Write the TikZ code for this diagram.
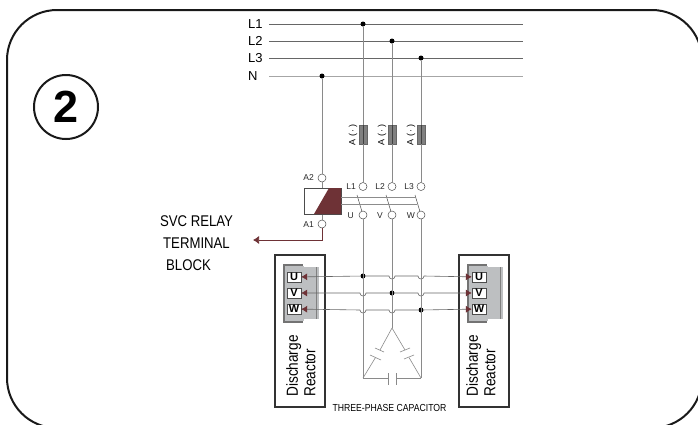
\documentclass[tikz,border=0pt]{standalone}
\usepackage{fontspec}
\setmainfont{Liberation Sans}
\newfontfamily\narrowfont[FakeStretch=0.85]{Liberation Sans}
\usetikzlibrary{arrows.meta}
\definecolor{coilred}{HTML}{6E3236}
\definecolor{linegray}{HTML}{8A8A8A}
\definecolor{blockgray}{HTML}{BDBFC1}
\tikzset{
  phase/.style={draw=black!60, line width=0.6pt},
  feed/.style={draw=linegray, line width=0.8pt},
  capline/.style={draw=linegray, line width=0.6pt},
  dotjoin/.style={circle, fill=black, inner sep=0pt, minimum size=5pt},
  term/.style={circle, draw=black!70, fill=white, line width=0.5pt, inner sep=0pt, minimum size=8pt},
  termtext/.style={font=\fontsize{8.5}{9}\selectfont, text=black!85, inner sep=0pt},
  fuse/.style={draw=black!60, fill=black!50, minimum width=7.5pt, minimum height=19pt, inner sep=0pt},
  reactor/.style={draw=black!80, line width=2.2pt, fill=white, minimum width=50pt, minimum height=152pt, inner sep=0pt},
  uvw/.style={draw=black!70, fill=white, line width=0.4pt, minimum width=14pt, minimum height=10.5pt, inner sep=0pt, font=\bfseries\fontsize{11}{11}\selectfont},
  rtext/.style={rotate=90, font=\narrowfont\fontsize{16}{17.5}\selectfont, align=left, inner sep=0pt},
  lineterm/.style={font=\fontsize{13}{14}\selectfont, inner sep=0pt, anchor=west},
  svctext/.style={font=\narrowfont\fontsize{15.5}{16}\selectfont, inner sep=0pt},
  hop/.style={draw=black!60, line width=0.6pt, -{Latex[length=6pt,width=7pt,color=coilred]}}
}
\begin{document}
\begin{tikzpicture}[x=1pt,y=-1pt]
\clip (0,0) rectangle (698,424);
%--- FRAME ---
\draw[line width=2pt, black!90, rounded corners=50pt] (7,10) rectangle (702,428);
\node[circle, draw=black!90, line width=2pt, minimum size=64pt, inner sep=0pt, font=\bfseries\fontsize{45}{45}\selectfont] (badge) at (66,107) {2};

%--- SUPPLY LINES ---
\foreach \nm/\yy/\ll in {a/24/L1, b/41/L2, c/58/L3, n/76/N} {
  \node[lineterm] (lab\nm) at (248,\yy) {\ll};
  \coordinate (st\nm) at (269,\yy);
  \coordinate (en\nm) at (523,\yy);
}
\draw[phase] (sta) -- (ena);
\draw[phase] (stb) -- (enb);
\draw[phase] (stc) -- (enc);
\draw[draw=black!35, line width=0.9pt] (stn) -- (enn);
\node[dotjoin] (doa) at (363,24) {};
\node[dotjoin] (dob) at (392,41) {};
\node[dotjoin] (doc) at (421,58) {};
\node[dotjoin] (don) at (322,76) {};

%--- FUSES ---
\foreach \nm/\xx in {a/363, b/392, c/421} {
  \node[fuse] (fu\nm) at (\xx,134.5) {};
  \draw[black!75, line width=0.5pt] (fu\nm.north) -- (fu\nm.south);
  \node[rotate=90, font=\fontsize{9}{9}\selectfont, inner sep=0pt] (fl\nm) at (\xx-10,135) {A\,\,(\,\textperiodcentered\,)};
}

%--- CONTACTOR ---
\node[term] (ta2) at (322,178) {};
\node[term] (ta1) at (322,224) {};
\node[termtext, anchor=east] (la2) at (314,178) {A2};
\node[termtext, anchor=east] (la1) at (314,225) {A1};
\foreach \nm/\xx/\top/\bot/\gap in {a/363/L1/U/9, b/392/L2/V/9, c/421/L3/W/6} {
  \node[term] (up\nm) at (\xx,186.5) {};
  \node[term] (lo\nm) at (\xx,215) {};
  \node[termtext, anchor=east] (lu\nm) at (\xx-7,187) {\top};
  \node[termtext, anchor=east] (ll\nm) at (\xx-\gap,215.5) {\bot};
  \draw[feed] (do\nm) -- (fu\nm);
  \draw[feed] (fu\nm) -- (up\nm);
  \draw[draw=black!70, line width=0.5pt] (\xx-6,195) -- (lo\nm);
}
\draw[feed] (don) -- (ta2);
\draw[feed] (ta2) -- (ta1);
\draw[draw=black!70, fill=white, line width=0.6pt] (304,188) rectangle (341,214);
\fill[coilred] (314,214) -- (329,188) -- (341,188) -- (341,214) -- cycle;
\draw[draw=black!45, line width=0.7pt] (341,197) -- (416,197) (341,204) -- (417,204);
\coordinate (relay) at (322,240);
\node[coordinate] (tip) at (253,240) {};
\draw[draw=coilred, line width=0.7pt, -{Latex[length=6pt,width=8pt]}] (ta1) -- (relay) -- (tip);
\node[svctext] (svca) at (196.5,221) {SVC RELAY};
\node[svctext] (svcb) at (196.5,243) {TERMINAL};
\node[svctext] (svcc) at (188.5,265) {BLOCK};

%--- REACTORS ---
\node[reactor] (reacl) at (300,331) {};
\node[reactor] (reacr) at (484,331) {};
\foreach \nm/\xx/\ux/\tx in {l/300/294/301, r/484/479/481} {
  \fill[blockgray] (\xx+3,267) rectangle (\xx+19,319);
  \draw[black!50, line width=0.4pt] (\xx+16,267) -- (\xx+16,319);
  \fill[black!55] (\xx-17,264) rectangle (\xx+3,323);
  \fill[blockgray] (\xx-15,266) rectangle (\xx+4,321);
  \node[uvw] (u\nm) at (\ux,277) {U};
  \node[uvw] (v\nm) at (\ux,293) {V};
  \node[uvw] (w\nm) at (\ux,309) {W};
  \node[rtext] (name\nm) at (\tx,366) {Discharge\\Reactor};
}

%--- BUSES ---
\node[dotjoin] (ju) at (363,276) {};
\node[dotjoin] (jv) at (392,293) {};
\node[dotjoin] (jw) at (421,310) {};
\draw[hop] (ju) -- (ul);
\draw[hop] (ju) -- (389,276) arc[start angle=180, end angle=0, radius=3] -- (418,276) arc[start angle=180, end angle=0, radius=3] -- (ur);
\draw[hop] (jv) -- (366,293) arc[start angle=0, end angle=180, radius=3] -- (vl);
\draw[hop] (jv) -- (418,293) arc[start angle=180, end angle=0, radius=3] -- (vr);
\draw[hop] (jw) -- (395,310) arc[start angle=0, end angle=180, radius=3] -- (366,310) arc[start angle=0, end angle=180, radius=3] -- (wl);
\draw[hop] (jw) -- (wr);

%--- THREE-PHASE CAPACITOR ---
\coordinate (cl) at (363,378);
\coordinate (cr) at (421,378);
\coordinate (ct) at (392,328);
\draw[feed] (loa) -- (cl);
\draw[feed] (lob) -- (ct);
\draw[feed] (loc) -- (cr);
\draw[capline] (cl) -- (388,378) (396,378) -- (cr);
\draw[capline] (388,373) -- (388,385) (396,373) -- (396,385);
\draw[capline] (ct) -- (380,350) (375.5,357.5) -- (cl);
\draw[capline] (375,348) -- (384,352) (370,355) -- (381,360);
\draw[capline] (ct) -- (405,350) (409,357.5) -- (cr);
\draw[capline] (400,352) -- (410,348) (404,359) -- (414,355);
\node[font=\narrowfont\fontsize{10.2}{11}\selectfont, inner sep=0pt] (capname) at (389.5,408) {THREE-PHASE CAPACITOR};
\end{tikzpicture}
\end{document}
